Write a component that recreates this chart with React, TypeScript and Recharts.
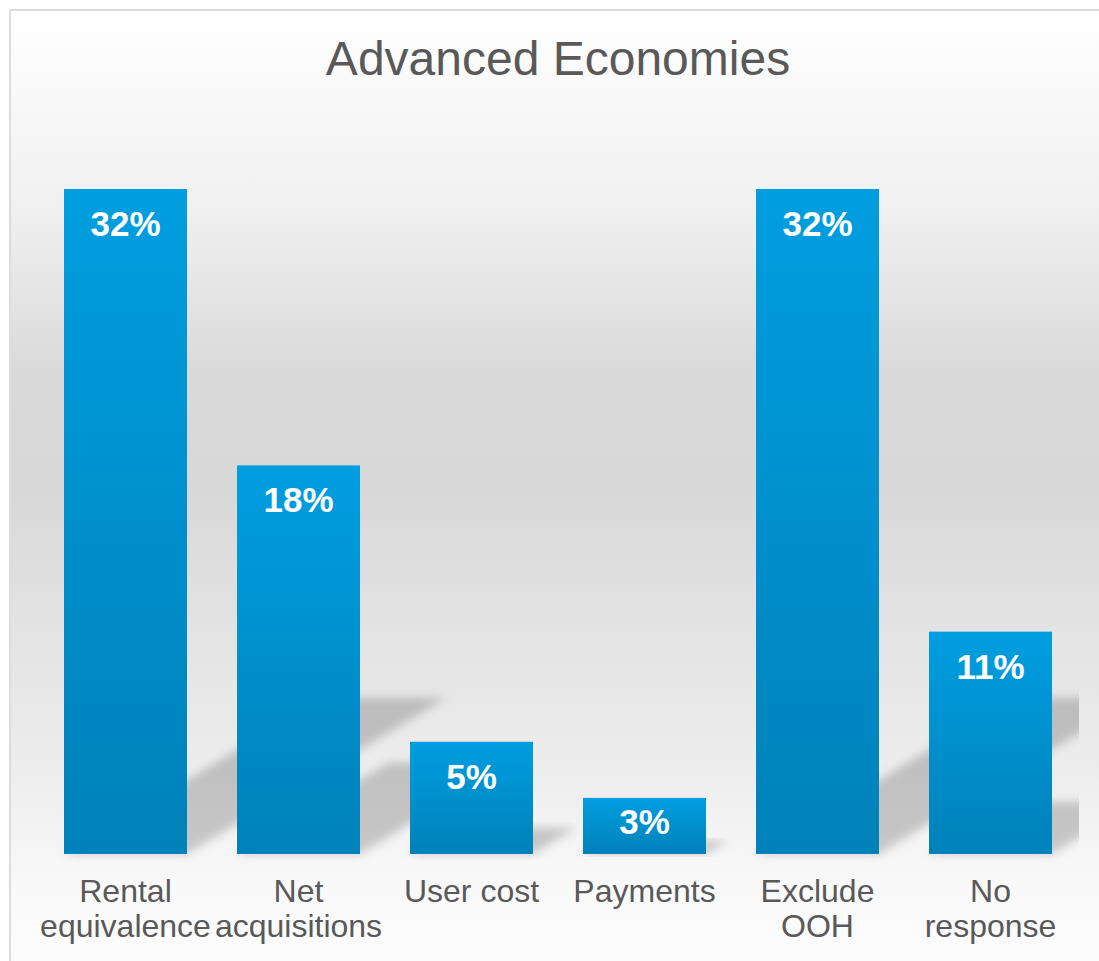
import React from 'react';
import { BarChart, Bar, XAxis, YAxis, LabelList } from 'recharts';

const categories = [
  'Rental\nequivalence',
  'Net\nacquisitions',
  'User cost',
  'Payments',
  'Exclude\nOOH',
  'No\nresponse',
];
const shares = [32, 18.7, 5.4, 2.7, 32, 10.7];
const shareLabels = ['32%', '18%', '5%', '3%', '32%', '11%'];

const data = categories.map((name, i) => ({ name, value: shares[i], label: shareLabels[i] }));

const FONT = '"Liberation Sans", Arial, sans-serif';
const TEXT_GRAY = '#595959';

// bar with a perspective shadow falling up and to the right
const ShadowBar = (props: any) => {
  const { x, y, width, height } = props;
  if (!height || height <= 0) return null;
  const base = y + height;
  const dx = height * 0.39;
  const dy = height * 0.235;
  const pts = [
    [x, base],
    [x + width, base],
    [x + width + dx, base - dy],
    [x + dx, base - dy],
  ]
    .map((p) => p.join(','))
    .join(' ');
  return (
    <g>
      <g clipPath="url(#plotClip)">
        <polygon points={pts} fill="rgba(0,0,0,0.19)" filter="url(#shadowBlur)" />
      </g>
      <rect x={x} y={y} width={width} height={height} fill="url(#barFill)" />
    </g>
  );
};

// inside end, pulled down a bit less on very short bars
const ValueLabel = (props: any) => {
  const { x, y, width, height, value } = props;
  const baseline = Math.min(y + 47, y + height - 20);
  return (
    <text
      x={x + width / 2}
      y={baseline}
      textAnchor="middle"
      fill="#ffffff"
      fontFamily={FONT}
      fontWeight="bold"
      fontSize={35}
    >
      {value}
    </text>
  );
};

const CategoryTick = (props: any) => {
  const { x, y, payload } = props;
  const lines = String(payload.value).split('\n');
  return (
    <g>
      {lines.map((line, i) => (
        <text
          key={i}
          x={x}
          y={y + 48 + i * 35}
          textAnchor="middle"
          fill={TEXT_GRAY}
          fontFamily={FONT}
          fontSize={32}
        >
          {line}
        </text>
      ))}
    </g>
  );
};

export default function App() {
  return (
    <div>
      <svg width={0} height={0} style={{ position: 'absolute' }}>
        <defs>
          <linearGradient id="barFill" x1="0" y1="0" x2="0" y2="1">
            <stop offset="0%" stopColor="#009ee0" />
            <stop offset="100%" stopColor="#0081b9" />
          </linearGradient>
          <filter id="shadowBlur" x="-20%" y="-20%" width="140%" height="140%">
            <feGaussianBlur stdDeviation="5" />
          </filter>
          <clipPath id="plotClip">
            <rect x={-20} y={0} width={1088} height={950} />
          </clipPath>
        </defs>
      </svg>
      <div
        style={{
          position: 'absolute',
          left: 9,
          top: 9,
          width: 1090,
          height: 952,
          boxSizing: 'border-box',
          borderLeft: '2px solid #dcdcdc',
          borderTop: '2px solid #dcdcdc',
          background:
            'linear-gradient(to bottom, #ffffff 0%, #f1f1f1 20%, #dadada 38%, #d8d8d8 50%, #e3e3e3 65%, #ededed 80%, #f9f9f9 92%, #fcfcfc 100%)',
          fontFamily: FONT,
        }}
      >
        <div
          style={{
            position: 'absolute',
            left: 28,
            width: 1038,
            top: 24,
            lineHeight: '48px',
            fontSize: 48,
            color: TEXT_GRAY,
            textAlign: 'center',
          }}
        >
          Advanced Economies
        </div>
        <BarChart
          width={1088}
          height={950}
          data={data}
          margin={{ top: 178, right: 22, left: 28, bottom: 7 }}
          barSize={123}
        >
          <XAxis
            dataKey="name"
            axisLine={false}
            tickLine={false}
            tickSize={0}
            tickMargin={0}
            height={100}
            interval={0}
            tick={<CategoryTick />}
          />
          <YAxis hide domain={[0, 32]} />
          <Bar dataKey="value" shape={<ShadowBar />} isAnimationActive={false}>
            <LabelList dataKey="label" content={<ValueLabel />} />
          </Bar>
        </BarChart>
      </div>
    </div>
  );
}
